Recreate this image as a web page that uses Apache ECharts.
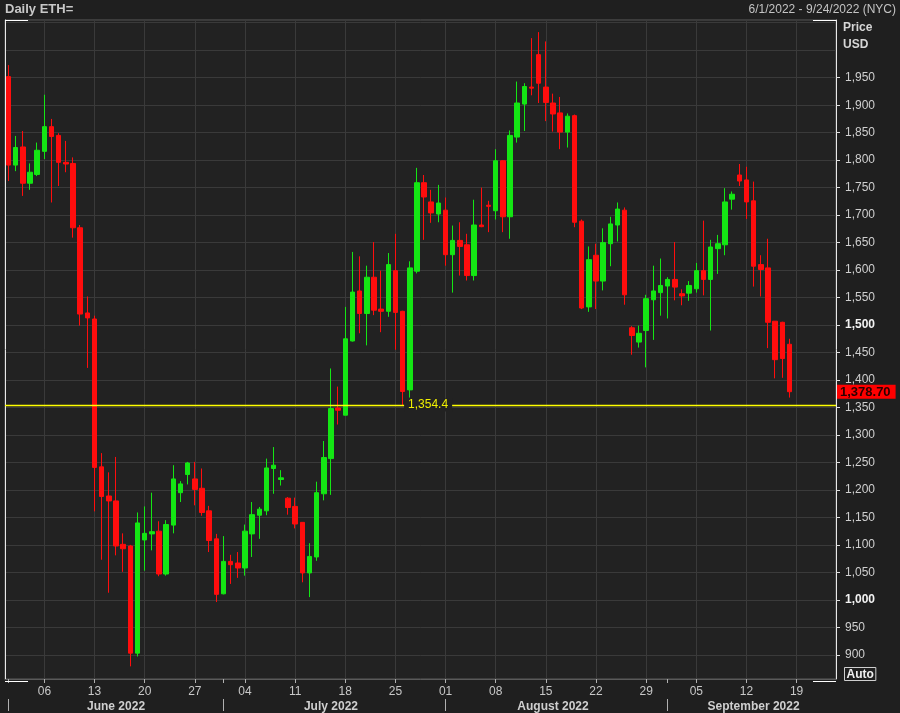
<!DOCTYPE html>
<html><head><meta charset="utf-8">
<script src="https://cdn.jsdelivr.net/npm/echarts@6/dist/echarts.min.js"></script>
<style>html,body{margin:0;padding:0;background:#1f1f1f;}#chart{width:900px;height:713px;}</style>
</head><body><div id="chart"></div>
<script>
// ---- data ----
const dayCount = 116; // 2022-06-01 .. 2022-09-24
const opens = [1952,1791,1824,1758,1774,1816,1861,1845,1796,1794,
  1677,1522,1511,1242,1189,1180,1101,1098,903,1109,
  1120,1125,1047,1136,1195,1228,1220,1203,1162,1111,
  1011,1070,1067,1058,1120,1154,1162,1239,1219,1185,
  1170,1141,1049,1078,1193,1257,1349,1336,1471,1562,
  1521,1587,1529,1525,1599,1525,1382,1598,1759,1724,
  1702,1709,1628,1654,1646,1590,1682,1718,1708,1799,
  1697,1842,1902,1933,1992,1933,1904,1886,1851,1881,
  1689,1533,1627,1580,1648,1682,1709,1495,1469,1490,
  1546,1559,1571,1583,1557,1558,1566,1599,1583,1639,
  1646,1729,1773,1764,1726,1610,1604,1507,1505,1465];
const highs = [1973,1844,1853,1794,1832,1919,1875,1849,1835,1805,
  1682,1552,1517,1267,1232,1260,1121,1100,1159,1170,
  1195,1143,1145,1245,1216,1251,1251,1239,1171,1120,
  1116,1082,1087,1137,1178,1169,1257,1278,1236,1187,
  1186,1141,1103,1215,1289,1421,1388,1533,1633,1625,
  1608,1651,1599,1631,1666,1526,1616,1786,1773,1746,
  1755,1732,1681,1687,1666,1728,1750,1726,1820,1800,
  1854,1943,1940,2022,2033,2016,1921,1915,1885,1883,
  1692,1643,1648,1676,1697,1723,1714,1498,1499,1555,
  1608,1621,1587,1651,1565,1580,1613,1690,1655,1664,
  1749,1743,1793,1788,1761,1627,1657,1507,1506,1475];
const lows = [1762,1780,1735,1746,1771,1802,1723,1753,1778,1659,
  1499,1422,1161,1073,1013,1081,1051,879,897,1053,
  1090,1043,1044,1121,1178,1210,1172,1153,1087,996,
  1010,1029,1040,1044,1078,1111,1154,1193,1208,1155,
  1130,1032,1005,1071,1181,1191,1319,1336,1470,1485,
  1463,1518,1487,1515,1455,1354.4,1368,1594,1655,1686,
  1687,1608,1559,1590,1581,1581,1678,1669,1692,1669,
  1657,1832,1853,1918,1904,1871,1852,1820,1823,1678,
  1529,1524,1529,1563,1607,1652,1537,1446,1459,1423,
  1473,1517,1512,1545,1536,1544,1559,1554,1490,1593,
  1627,1710,1753,1693,1570,1552,1458,1403,1404,1368];
const closes = [1791,1823,1758,1778,1818,1861,1843,1796,1793,1677,
  1520,1513,1241,1188,1180,1098,1093,903,1140,1121,
  1124,1047,1137,1220,1211,1249,1201,1159,1108,1010,
  1070,1064,1058,1125,1155,1165,1240,1245,1222,1168,
  1138,1049,1079,1195,1259,1348,1345,1475,1560,1521,
  1587,1527,1525,1610,1523,1379,1604,1759,1733,1704,
  1722,1628,1654,1643,1590,1682,1679,1716,1799,1697,
  1845,1904,1934,1931,1940,1905,1884,1851,1880,1687,
  1531,1619,1580,1650,1684,1711,1555,1481,1485,1548,
  1562,1572,1583,1569,1553,1572,1599,1583,1642,1648,
  1724,1738,1762,1724,1607,1601,1505,1437,1439,1378.7];
const lowMarkValue = 1354.4;
const lowMarkDate = '2022-07-26';
const lastPrice = 1378.70;
const yTickValues = [900,950,1000,1050,1100,1150,1200,1250,1300,1350,1400,1450,1500,1550,1600,1650,1700,1750,1800,1850,1900,1950];
const boldTickValues = [1000, 1500];
const monthNames = ['June 2022','July 2022','August 2022','September 2022'];
const monthLabelDates = ['2022-06-16','2022-07-16','2022-08-16','2022-09-13'];

// ---- categories ----
const categories = [];
const mondays = [];
for (let i = 0; i < dayCount; i++) {
  const d = new Date(Date.UTC(2022, 5, 1 + i));
  const s = d.toISOString().slice(0, 10);
  categories.push(s);
  if (d.getUTCDay() === 1) mondays.push(s);
}
const mondaySet = new Set(mondays);
const isFirst = v => v.slice(8) === '01';
const candleData = opens.map((o, i) => [o, closes[i], lows[i], highs[i]]);

const FONT = '"Liberation Sans", Arial, sans-serif';
const fmt = v => Number(v).toLocaleString('en-US');

const chart = echarts.init(document.getElementById('chart'), null, {renderer: 'canvas'});
const yMin = 856, yMax = 2055;
chart.setOption({
  backgroundColor: '#1f1f1f',
  animation: false,
  grid: {left: 5, right: 64, top: 20, bottom: 31, show: true, backgroundColor: '#222222', borderColor: '#5a5a5a', borderWidth: 1, containLabel: false},
  xAxis: [{
    type: 'category', data: categories, boundaryGap: true, position: 'bottom',
    axisLine: {show: true, onZero: false, lineStyle: {color: '#5a5a5a'}},
    axisTick: {show: true, alignWithLabel: true, length: 4, interval: (i, v) => mondaySet.has(v) || isFirst(v), lineStyle: {color: '#b0b0b0'}},
    axisLabel: {interval: (i, v) => mondaySet.has(v), formatter: v => v.slice(8), color: '#c8c8c8', fontSize: 12, fontFamily: FONT, margin: 7},
    splitLine: {show: false}
  }, {
    type: 'category', data: categories, boundaryGap: true, position: 'bottom', offset: 20,
    axisLine: {show: false, onZero: false},
    axisTick: {show: true, alignWithLabel: true, length: 12, interval: (i, v) => isFirst(v), lineStyle: {color: '#b0b0b0'}},
    axisLabel: {interval: (i, v) => monthLabelDates.indexOf(v) >= 0, formatter: v => monthNames[monthLabelDates.indexOf(v)], color: '#cfcfcf', fontSize: 12, fontWeight: 'bold', fontFamily: FONT, margin: 2},
    splitLine: {show: false}
  }],
  yAxis: [{
    type: 'value', position: 'right', min: yMin, max: yMax, splitNumber: 24,
    axisLine: {show: true, lineStyle: {color: '#e8e8e8'}},
    axisTick: {show: false},
    splitLine: {show: true, lineStyle: {color: '#3a3a3a', width: 1}},
    axisLabel: {
      margin: 9, color: '#cfcfcf', fontSize: 12, fontFamily: FONT, showMinLabel: false, showMaxLabel: false,
      formatter: v => (v < 900 || v > 1950) ? '' : (boldTickValues.indexOf(v) >= 0 ? '{b|' + fmt(v) + '}' : fmt(v)),
      rich: {b: {fontWeight: 'bold', color: '#f2f2f2', fontSize: 12, fontFamily: FONT}}
    }
  }, {
    type: 'value', position: 'right', min: yMin, max: yMax, splitNumber: 24,
    axisLine: {show: false}, splitLine: {show: false}, axisLabel: {show: false},
    axisTick: {show: true, length: 4, customValues: yTickValues, lineStyle: {color: '#e0e0e0'}}
  }, {
    type: 'value', position: 'left', min: yMin, max: yMax, splitNumber: 24,
    axisLine: {show: true, lineStyle: {color: '#e8e8e8'}}, splitLine: {show: false}, axisLabel: {show: false}, axisTick: {show: false}
  }],
  series: [{
    type: 'line', data: [], z: 1, silent: true,
    markLine: {
      silent: true, symbol: 'none', z: 1, animation: false,
      label: {show: false},
      lineStyle: {color: '#3a3a3a', type: 'solid', width: 1},
      data: mondays.map(d => ({xAxis: d}))
    }
  }, {
    type: 'candlestick', name: 'ETH', data: candleData, barWidth: 5,
    itemStyle: {color: '#14e614', color0: '#ff0d0d', borderColor: '#14e614', borderColor0: '#ff0d0d', borderWidth: 1},
    markLine: {
      silent: true, symbol: 'none', z: 5, animation: false,
      lineStyle: {color: '#ffff00', width: 1.3, type: 'solid', opacity: 1},
      label: {show: true, position: 'end', distance: 1, backgroundColor: '#ff0000', padding: [1, 5, 0, 3],
        formatter: () => '{p|' + lastPrice.toLocaleString('en-US', {minimumFractionDigits: 2}) + '}',
        rich: {p: {color: '#2a0000', fontWeight: 'bold', fontSize: 13, fontFamily: FONT}}},
      emphasis: {disabled: true},
      data: [
        {yAxis: lowMarkValue, label: {show: false}},
        {yAxis: lastPrice, lineStyle: {color: 'transparent'}}
      ]
    },
    markPoint: {
      silent: true, z: 6, animation: false,
      data: [{coord: [lowMarkDate, lowMarkValue], symbol: 'rect', symbolSize: 1, itemStyle: {color: 'rgba(0,0,0,0)'},
        label: {show: true, position: 'right', distance: 1, formatter: () => fmt(lowMarkValue), color: '#f0f000', textBorderWidth: 0, backgroundColor: '#222222', fontSize: 12, fontFamily: FONT, padding: [1, 4, 0, 4]}}]
    }
  }],
  graphic: [
    {type: 'text', left: 5, top: 3, style: {text: 'Daily ETH=', fill: '#c8c8c8', font: 'bold 13px ' + FONT}},
    {type: 'text', right: 4, top: 4, style: {text: '6/1/2022 - 9/24/2022 (NYC)', fill: '#c4c4c4', font: '12px ' + FONT}},
    {type: 'text', left: 843, top: 22, style: {text: 'Price', fill: '#d6d6d6', font: 'bold 12px ' + FONT}},
    {type: 'text', left: 843, top: 39, style: {text: 'USD', fill: '#d6d6d6', font: 'bold 12px ' + FONT}},
    {type: 'text', left: 844, top: 667, style: {text: 'Auto', fill: '#f0f0f0', font: 'bold 12px ' + FONT, borderColor: '#cfcfcf', borderWidth: 1, padding: [1, 2, 0, 2]}},
    {type: 'line', shape: {x1: 5, y1: 20.5, x2: 28, y2: 20.5}, style: {stroke: '#ffffff', lineWidth: 1}, z: 10},
    {type: 'line', shape: {x1: 813, y1: 20.5, x2: 836, y2: 20.5}, style: {stroke: '#ffffff', lineWidth: 1}, z: 10},
    {type: 'line', shape: {x1: 5, y1: 681.5, x2: 28, y2: 681.5}, style: {stroke: '#ffffff', lineWidth: 1}, z: 10},
    {type: 'line', shape: {x1: 813, y1: 681.5, x2: 836, y2: 681.5}, style: {stroke: '#ffffff', lineWidth: 1}, z: 10}
  ]
});
</script></body></html>
